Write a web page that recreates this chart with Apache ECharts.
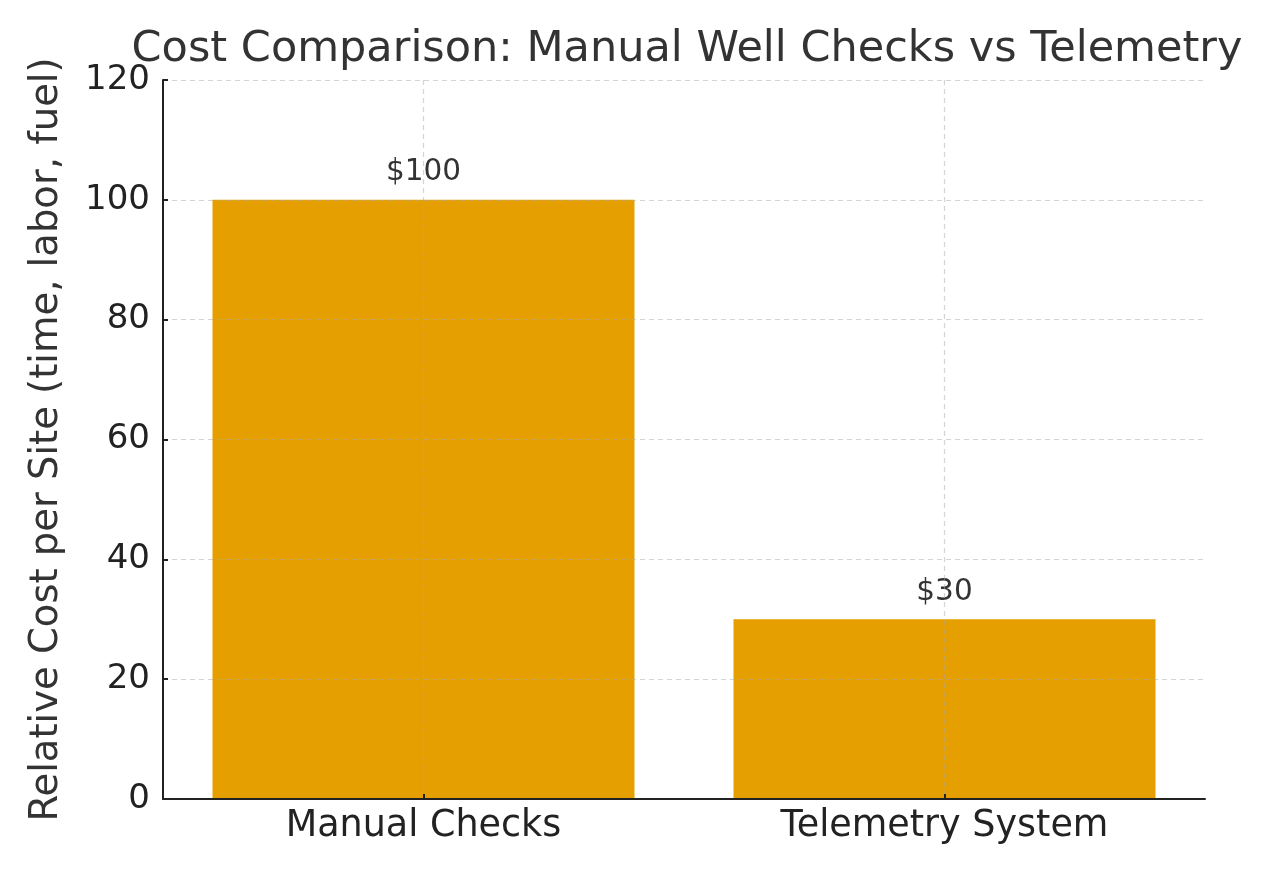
<!DOCTYPE html>
<html>
<head>
<meta charset="utf-8">
<script src="https://cdn.jsdelivr.net/npm/echarts@6/dist/echarts.min.js"></script>
<style>html,body{margin:0;padding:0;background:#fff}#c{width:1273px;height:870px}</style>
</head>
<body>
<div id="c"></div>
<script>
const titleText = 'Cost Comparison: Manual Well Checks vs Telemetry';
const yAxisTitle = 'Relative Cost per Site (time, labor, fuel)';
const categories = ['Manual Checks', 'Telemetry System'];
const costs = [100, 30];
const yTicks = [0, 20, 40, 60, 80, 100, 120];

const chart = echarts.init(document.getElementById('c'), null, {renderer: 'canvas'});
const FONT = 'DejaVu Sans';
chart.setOption({
  backgroundColor: '#ffffff',
  animation: false,
  title: {
    text: titleText,
    left: 682, top: 23, textAlign: 'center',
    textStyle: {fontFamily: FONT, fontSize: 43, fontWeight: 'normal', color: '#333333'}
  },
  grid: {left: 163, right: 68, top: 80, bottom: 71, containLabel: false},
  xAxis: {
    type: 'category',
    data: categories,
    z: 5,
    axisLine: {show: true, lineStyle: {color: '#222222', width: 2}},
    axisTick: {show: true, inside: true, alignWithLabel: true, length: 5, lineStyle: {color: '#222222', width: 2}},
    axisLabel: {fontFamily: FONT, fontSize: 36.5, color: '#222222', margin: 9},
    splitLine: {show: true, alignWithLabel: true, lineStyle: {color: 'rgba(170,170,170,0.5)', type: [5, 4], width: 1.2}}
  },
  yAxis: {
    type: 'value',
    min: yTicks[0], max: yTicks[yTicks.length - 1], interval: yTicks[1] - yTicks[0],
    z: 5,
    name: yAxisTitle,
    nameLocation: 'middle',
    nameGap: 97,
    nameTextStyle: {fontFamily: FONT, fontSize: 38.5, color: '#333333'},
    axisLine: {show: true, lineStyle: {color: '#222222', width: 2}},
    axisTick: {show: true, inside: true, length: 5, lineStyle: {color: '#222222', width: 2}},
    axisLabel: {fontFamily: FONT, fontSize: 34, color: '#222222', margin: 13},
    splitLine: {show: true, lineStyle: {color: 'rgba(170,170,170,0.5)', type: [5, 4], width: 1.2}}
  },
  series: [{
    type: 'bar',
    data: costs,
    barWidth: '81%',
    itemStyle: {color: '#E69F00'},
    label: {
      show: true, position: 'top', distance: 12,
      formatter: p => '$' + p.value,
      fontFamily: FONT, fontSize: 29.5, color: '#333333'
    }
  }]
});
</script>
</body>
</html>
